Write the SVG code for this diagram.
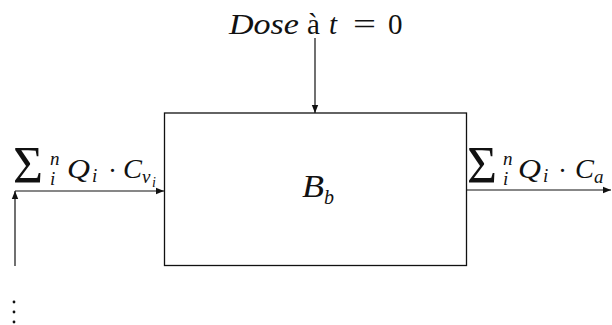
<svg xmlns="http://www.w3.org/2000/svg" width="612" height="325" viewBox="0 0 612 325">
<style>
text{font-family:'Liberation Serif','DejaVu Serif','Times New Roman',serif;fill:#111}
.i{font-style:italic}
.ln{stroke:#111;stroke-width:1.2;fill:none}
</style>
<defs>
<marker id="ah" viewBox="0 0 10 10" refX="10" refY="5" markerWidth="8" markerHeight="8" markerUnits="userSpaceOnUse" orient="auto">
<path d="M0,1 L10,5 L0,9 z" fill="#111"/>
</marker>
</defs>
<rect width="612" height="325" fill="#fff"/>
<g id="connectors">
<line class="ln" x1="315" y1="38" x2="315" y2="113" marker-end="url(#ah)"/>
<line class="ln" x1="15" y1="266" x2="15" y2="191" marker-end="url(#ah)"/>
<line class="ln" x1="15" y1="191" x2="164" y2="191" marker-end="url(#ah)"/>
<line class="ln" x1="467" y1="190" x2="611" y2="190" marker-end="url(#ah)"/>
<g fill="#111"><circle cx="14" cy="302" r="1.4"/><circle cx="14" cy="312" r="1.4"/><circle cx="14" cy="322" r="1.4"/></g>
</g>
<g id="dose">
<text class="i" x="229" y="34" font-size="29" textLength="70" lengthAdjust="spacingAndGlyphs">Dose</text>
<text x="307" y="34" font-size="29">à</text>
<text class="i" x="329" y="34" font-size="29">t</text>
<text x="353" y="34" font-size="29" textLength="23" lengthAdjust="spacingAndGlyphs">=</text>
<text x="388" y="34" font-size="29">0</text>
</g>
<g id="box">
<rect x="164.5" y="113" width="302" height="152.5" fill="none" stroke="#111" stroke-width="1.3"/>
<text class="i" x="302" y="197" font-size="31" textLength="22" lengthAdjust="spacingAndGlyphs">B</text>
<text class="i" x="324" y="204" font-size="20">b</text>
</g>
<g id="input-label">
<text x="13" y="183" font-size="52" textLength="30" lengthAdjust="spacingAndGlyphs">Σ</text>
<text class="i" x="50" y="165" font-size="19">n</text>
<text class="i" x="50" y="185" font-size="19">i</text>
<text class="i" x="67" y="178" font-size="28" textLength="23" lengthAdjust="spacingAndGlyphs">Q</text>
<text class="i" x="92" y="182" font-size="19">i</text>
<text x="108" y="180" font-size="27">·</text>
<text class="i" x="123" y="178" font-size="28" textLength="19" lengthAdjust="spacingAndGlyphs">C</text>
<text class="i" x="142" y="183" font-size="19">v</text>
<text class="i" x="152" y="187" font-size="14">i</text>
</g>
<g id="output-label">
<text x="467" y="183" font-size="52" textLength="30" lengthAdjust="spacingAndGlyphs">Σ</text>
<text class="i" x="503" y="165" font-size="19">n</text>
<text class="i" x="503" y="185" font-size="19">i</text>
<text class="i" x="518" y="178" font-size="28" textLength="23" lengthAdjust="spacingAndGlyphs">Q</text>
<text class="i" x="543" y="182" font-size="19">i</text>
<text x="558" y="180" font-size="27">·</text>
<text class="i" x="575" y="178" font-size="28" textLength="19" lengthAdjust="spacingAndGlyphs">C</text>
<text class="i" x="594" y="183" font-size="19">a</text>
</g>
</svg>
